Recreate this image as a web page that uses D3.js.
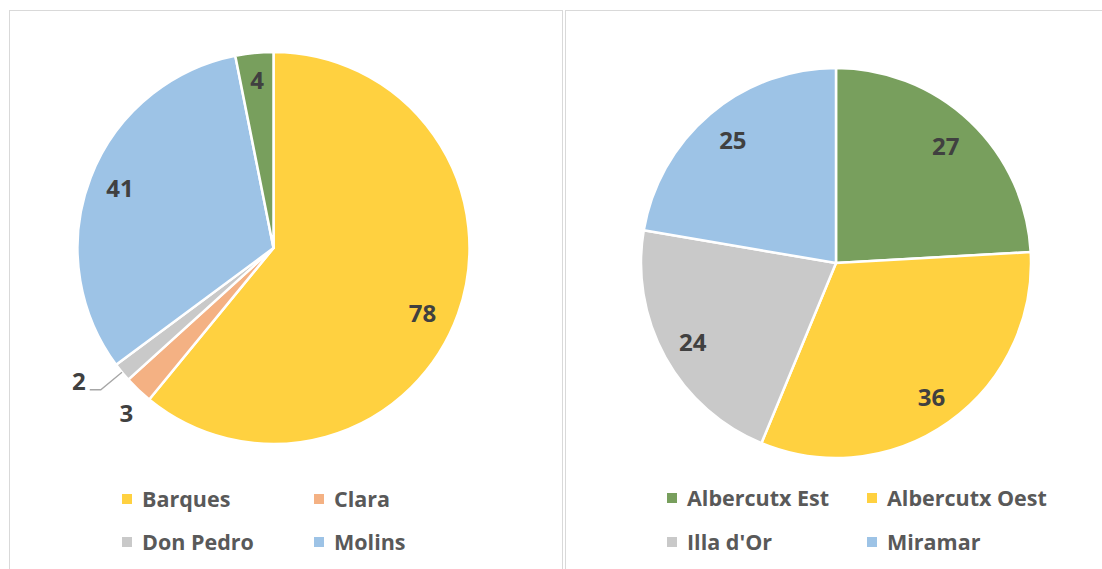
<!DOCTYPE html>
<html>
<head>
<meta charset="utf-8">
<script src="https://cdn.jsdelivr.net/npm/d3@7"></script>
<style>
  body { margin: 0; background: #fff; }
  svg { display: block; }
</style>
</head>
<body>
<div id="chart"></div>
<script>
  // left pie: beaches (fifth green slice has no legend entry in the original)
  const leftNames = ["Barques", "Clara", "Don Pedro", "Molins", ""];
  const leftValues = [78, 3, 2, 41, 4];
  const leftColors = ["#ffd140", "#f4b183", "#c9c9c9", "#9dc3e6", "#789f5d"];

  // right pie
  const rightNames = ["Albercutx Est", "Albercutx Oest", "Illa d'Or", "Miramar"];
  const rightValues = [27, 36, 24, 25];
  const rightColors = ["#789f5d", "#ffd140", "#c9c9c9", "#9dc3e6"];

  const W = 1102, H = 569;
  const font = "'Open Sans', 'Noto Sans', sans-serif";

  const svg = d3.select("#chart").append("svg")
    .attr("width", W).attr("height", H);

  // panel frames
  svg.append("rect").attr("x", 9.5).attr("y", 10.5).attr("width", 553).attr("height", 600)
    .attr("fill", "none").attr("stroke", "#d9d9d9");
  svg.append("rect").attr("x", 565.5).attr("y", 10.5).attr("width", 600).attr("height", 600)
    .attr("fill", "none").attr("stroke", "#d9d9d9");

  function drawPie(spec) {
    const g = svg.append("g").attr("transform", `translate(${spec.cx}, ${spec.cy})`);
    const pie = d3.pie().sort(null).value(d => d.v);
    const data = pie(spec.values.map((v, i) => ({ v: v, name: spec.names[i], c: spec.colors[i], pos: spec.labelPos[i] })));
    const arc = d3.arc().innerRadius(0).outerRadius(spec.r);

    g.selectAll("path.slice")
      .data(data)
      .join("path")
      .attr("class", "slice")
      .attr("d", arc)
      .attr("fill", d => d.data.c)
      .attr("stroke", "#fff")
      .attr("stroke-width", 2.5)
      .attr("stroke-linejoin", "round");

    data.forEach(d => {
      const p = d.data.pos;
      const a = (d.startAngle + d.endAngle) / 2 + (p.da || 0) * Math.PI / 180;
      if (p.leader) {
        // outside label with leader line
        const x0 = Math.sin(a) * spec.r, y0 = -Math.cos(a) * spec.r;
        const x1 = Math.sin(a) * spec.r * p.f, y1 = -Math.cos(a) * spec.r * p.f;
        g.append("polyline")
          .attr("points", `${x0},${y0} ${x1},${y1} ${x1 - 11},${y1}`)
          .attr("fill", "none").attr("stroke", "#a6a6a6").attr("stroke-width", 1.3);
        g.append("text")
          .attr("x", x1 - 15).attr("y", y1 - 8)
          .attr("text-anchor", "end").attr("dy", "0.36em")
          .attr("font-family", font).attr("font-weight", 700).attr("font-size", 24)
          .attr("fill", "#404040")
          .text(d.data.v);
      } else {
        const r = spec.r * p.f;
        g.append("text")
          .attr("x", Math.sin(a) * r).attr("y", -Math.cos(a) * r)
          .attr("text-anchor", "middle").attr("dy", "0.36em")
          .attr("font-family", font).attr("font-weight", 700).attr("font-size", 24)
          .attr("fill", "#404040")
          .text(d.data.v);
      }
    });

    // legend, two columns
    const lg = svg.append("g");
    spec.legend.forEach((item, i) => {
      const col = i % 2, row = Math.floor(i / 2);
      const x = spec.legendX[col], y = spec.legendY[row];
      lg.append("rect").attr("x", x).attr("y", y - 5).attr("width", 10).attr("height", 10)
        .attr("fill", item.c);
      lg.append("text").attr("x", x + 20).attr("y", y).attr("dy", "0.36em")
        .attr("font-family", font).attr("font-weight", 700).attr("font-size", 21.5)
        .attr("fill", "#595959")
        .text(item.name);
    });
  }

  drawPie({
    cx: 273.5, cy: 248, r: 196,
    values: leftValues, names: leftNames, colors: leftColors,
    labelPos: [{ f: 0.83, da: 4 }, { f: 1.13, da: -2 }, { f: 1.14, leader: true }, { f: 0.84 }, { f: 0.86 }],
    legend: leftNames.slice(0, 4).map((n, i) => ({ name: n, c: leftColors[i] })),
    legendX: [122, 314], legendY: [499, 542]
  });

  drawPie({
    cx: 836, cy: 263, r: 195,
    values: rightValues, names: rightNames, colors: rightColors,
    labelPos: [{ f: 0.82 }, { f: 0.846 }, { f: 0.84 }, { f: 0.82 }],
    legend: rightNames.map((n, i) => ({ name: n, c: rightColors[i] })),
    legendX: [667, 867], legendY: [498, 542]
  });
</script>
</body>
</html>
